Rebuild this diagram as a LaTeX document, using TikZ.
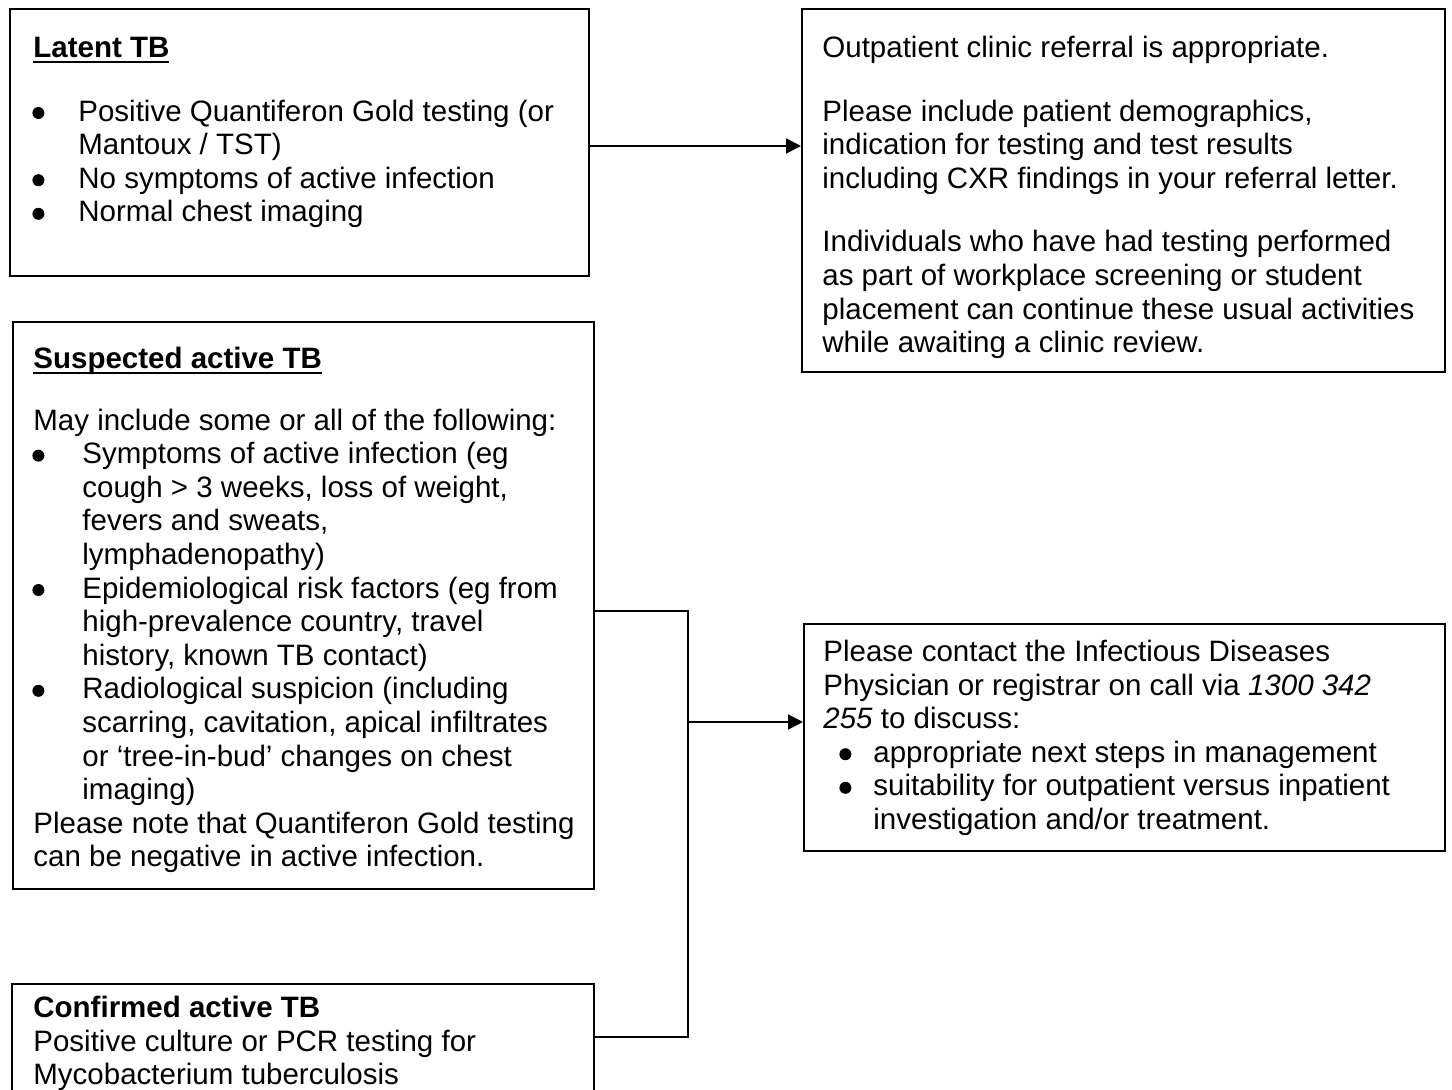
\documentclass[tikz,border=0pt]{standalone}
\usepackage{fontspec}
\setmainfont{Liberation Sans}
\usetikzlibrary{arrows.meta}
\newlength{\hdw}
\newcommand{\uhd}[1]{\settowidth{\hdw}{\textbf{#1}}\textbf{#1}\hspace*{-\hdw}\rule[-3pt]{\hdw}{1.3pt}}
\newcommand{\bdot}{\tikz[baseline=0pt]\fill (3pt,4pt) circle[radius=3pt];}
\newcommand{\bul}[2][0pt]{\makebox[#2][l]{\hspace*{#1}\bdot}}
\begin{document}
\begin{tikzpicture}[x=0.5pt,y=-0.5pt,
  box/.style={draw, line width=1pt, inner sep=0pt, anchor=north west},
  txt/.style={anchor=north west, inner sep=0pt, align=left, font=\fontsize{14.75}{16.8}\selectfont},
  conn/.style={line width=1pt},
  arr/.style={line width=1pt, -{Triangle[length=7.5pt,width=7.5pt]}}]
\useasboundingbox (0,0) rectangle (1452,1090);

% boxes
\node[box, minimum width=289.5pt, minimum height=133.5pt] (latent) at (9,8) {};
\node[box, minimum width=321.5pt, minimum height=181.5pt] (outp) at (801,8) {};
\node[box, minimum width=290.5pt, minimum height=283.5pt] (susp) at (12,321) {};
\node[box, minimum width=320.5pt, minimum height=113.5pt] (contact) at (803,623) {};
\node[box, minimum width=291pt, minimum height=70pt] (conf) at (11,983) {};

% texts
\node[txt] (latentT) at (33,33.5) {\strut\uhd{Latent TB}\\[15pt]
\bul[-0.5pt]{22.5pt}Positive Quantiferon Gold testing (or\\
\hspace*{22.5pt}Mantoux / TST)\\
\bul[-0.5pt]{22.5pt}No symptoms of active infection\\
\bul[-0.5pt]{22.5pt}Normal chest imaging};

\node[txt] (outpT) at (822,33.5) {\strut Outpatient clinic referral is appropriate.\\[15pt]
Please include patient demographics,\\
indication for testing and test results\\
including CXR findings in your referral letter.\\[15pt]
Individuals who have had testing performed\\
as part of workplace screening or student\\
placement can continue these usual activities\\
while awaiting a clinic review.};

\node[txt] (suspT) at (33,344.5) {\strut\uhd{Suspected active TB}\\[14pt]
May include some or all of the following:\\
\bul[-0.5pt]{24.5pt}Symptoms of active infection (eg\\
\hspace*{24.5pt}cough > 3 weeks, loss of weight,\\
\hspace*{24.5pt}fevers and sweats,\\
\hspace*{24.5pt}lymphadenopathy)\\
\bul[-0.5pt]{24.5pt}Epidemiological risk factors (eg from\\
\hspace*{24.5pt}high-prevalence country, travel\\
\hspace*{24.5pt}history, known TB contact)\\
\bul[-0.5pt]{24.5pt}Radiological suspicion (including\\
\hspace*{24.5pt}scarring, cavitation, apical infiltrates\\
\hspace*{24.5pt}or ‘tree-in-bud’ changes on chest\\
\hspace*{24.5pt}imaging)\\
Please note that Quantiferon Gold testing\\
can be negative in active infection.};

\node[txt] (contactT) at (823,637.5) {\strut Please contact the Infectious Diseases\\
Physician or registrar on call via \textit{1300 342}\\
\textit{255} to discuss:\\
\bul[8pt]{25pt}appropriate next steps in management\\
\bul[8pt]{25pt}suitability for outpatient versus inpatient\\
\hspace*{25pt}investigation and/or treatment.};

\node[txt] (confT) at (33,993.5) {\strut\textbf{Confirmed active TB}\\
Positive culture or PCR testing for\\
Mycobacterium tuberculosis};

% connectors
\coordinate (j1) at (688,611);
\coordinate (j2) at (688,1037);
\coordinate (j3) at (688,722);
\draw[arr] (latent.east |- 0,146) -- (outp.west |- 0,146);
\draw[conn] (susp.east |- j1) -- (j1) -- (j2) -- (conf.east |- j2);
\draw[arr] (j3) -- (contact.west |- j3);
\end{tikzpicture}
\end{document}
